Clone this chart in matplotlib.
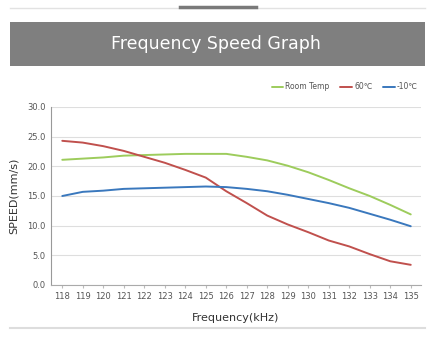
import matplotlib
matplotlib.use("Agg")
import matplotlib.pyplot as plt
from matplotlib.patches import Rectangle
from matplotlib.lines import Line2D

# ── data ──────────────────────────────────────────────────────────────────────
FREQ = [118, 119, 120, 121, 122, 123, 124, 125, 126,
        127, 128, 129, 130, 131, 132, 133, 134, 135]

ROOM_TEMP = [21.1, 21.3, 21.5, 21.8, 21.9, 22.0, 22.1, 22.1, 22.1,
             21.6, 21.0, 20.1, 19.0, 17.7, 16.3, 15.0, 13.5, 11.9]
HOT_60 = [24.3, 24.0, 23.4, 22.6, 21.6, 20.6, 19.4, 18.1, 15.8,
          13.8, 11.7, 10.2, 8.9, 7.5, 6.5, 5.2, 4.0, 3.4]
COLD_10 = [15.0, 15.7, 15.9, 16.2, 16.3, 16.4, 16.5, 16.6, 16.5,
           16.2, 15.8, 15.2, 14.5, 13.8, 13.0, 12.0, 11.0, 9.9]

SERIES_LABELS = ["Room Temp", "60℃", "-10℃"]
Y_TICKS = [0, 5, 10, 15, 20, 25, 30]

COLORS = ["#9dcc5c", "#c0504d", "#3a78bd"]

plt.rcParams["font.family"] = ["Liberation Sans Narrow", "DejaVu Sans"]

W, H = 430, 338
fig = plt.figure(figsize=(W / 100, H / 100), dpi=100)
fig.patch.set_facecolor("white")

# ── decorations (pixel coords -> figure fraction) ─────────────────────────────
def fx(px):
    return px / W


def fy(py):
    return 1 - py / H


fig.add_artist(Line2D([fx(10), fx(425)], [fy(8), fy(8)], color="#e2e2e2", lw=1.0))
fig.add_artist(Line2D([fx(180), fx(256)], [fy(7), fy(7)], color="#7a7a7a", lw=2.5))
fig.add_artist(Rectangle((fx(10), fy(66)), fx(415), 44 / H,
                         facecolor="#7f7f7f", edgecolor="none"))
fig.text(fx(216), fy(44), "Frequency Speed Graph", color="white",
         fontsize=12.5, ha="center", va="center",
         family=["DejaVu Sans"])
fig.add_artist(Line2D([fx(10), fx(425)], [fy(328), fy(328)], color="#dddddd", lw=1.5))

# ── chart ─────────────────────────────────────────────────────────────────────
ax = fig.add_axes([fx(51), fy(285), fx(370), (285 - 107) / H])
for vals, lab, col in zip([ROOM_TEMP, HOT_60, COLD_10], SERIES_LABELS, COLORS):
    ax.plot(FREQ, vals, color=col, lw=1.4, label=lab, solid_capstyle="round")

ax.set_xlim(117.45, 135.5)
ax.set_ylim(0, 30)
ax.set_xticks(FREQ)
ax.set_xticklabels([str(f) for f in FREQ])
ax.set_yticks(Y_TICKS)
ax.set_yticklabels([f"{v:.1f}" for v in Y_TICKS])
ax.tick_params(axis="both", labelsize=6, colors="#555555", length=0, pad=4)
ax.tick_params(axis="x", length=2, color="#bbbbbb", direction="out", pad=3)
ax.grid(axis="y", color="#dedede", lw=0.8)
ax.set_axisbelow(True)
for s in ["top", "right"]:
    ax.spines[s].set_visible(False)
ax.spines["left"].set_color("#999999")
ax.spines["left"].set_linewidth(0.8)
ax.spines["bottom"].set_color("#aaaaaa")
ax.spines["bottom"].set_linewidth(0.8)

ax.set_xlabel("Frequency(kHz)", fontsize=8, color="#333333", labelpad=9)
ax.set_ylabel("SPEED(mm/s)", fontsize=8, color="#333333", labelpad=6)

ax.legend(loc="lower right", bbox_to_anchor=(1.0, 1.07), ncol=3, frameon=False,
          fontsize=5.5, handlelength=1.5, handletextpad=0.3, columnspacing=1.4,
          borderaxespad=0, labelcolor="#555555")

fig.savefig("out.png", dpi=100)
